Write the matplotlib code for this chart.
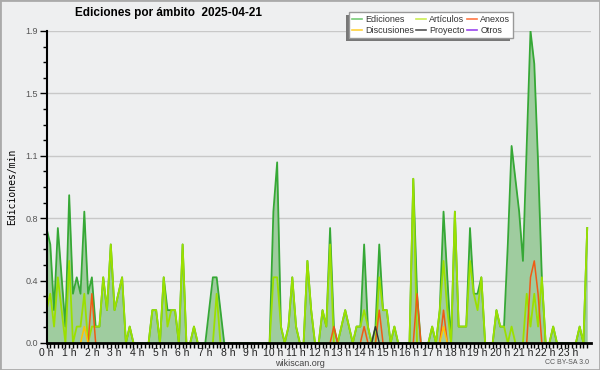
import matplotlib
matplotlib.use("Agg")
import matplotlib.pyplot as plt
import numpy as np
from matplotlib.lines import Line2D
from matplotlib.patches import Rectangle

# edits per minute, one value per 10 minutes (6 per hour, 4 hours per row)
ediciones = [
    0.7, 0.6, 0.2, 0.7, 0.4, 0.1, 0.9, 0.3, 0.4, 0.3, 0.8, 0.3, 0.4, 0.1, 0.1, 0.4, 0.2, 0.6, 0.2, 0.3, 0.4, 0.0, 0.1, 0.0,
    0.0, 0.0, 0.0, 0.0, 0.2, 0.2, 0.0, 0.4, 0.2, 0.2, 0.2, 0.0, 0.6, 0.0, 0.0, 0.1, 0.0, 0.0, 0.0, 0.2, 0.4, 0.4, 0.2, 0.0,
    0.0, 0.0, 0.0, 0.0, 0.0, 0.0, 0.0, 0.0, 0.0, 0.0, 0.0, 0.0, 0.8, 1.1, 0.1, 0.0, 0.1, 0.4, 0.1, 0.0, 0.0, 0.5, 0.2, 0.0,
    0.0, 0.2, 0.1, 0.7, 0.1, 0.0, 0.1, 0.2, 0.1, 0.0, 0.1, 0.1, 0.6, 0.1, 0.0, 0.1, 0.6, 0.2, 0.2, 0.0, 0.1, 0.0, 0.0, 0.0,
    0.0, 1.0, 0.3, 0.0, 0.0, 0.0, 0.1, 0.0, 0.2, 0.8, 0.4, 0.0, 0.8, 0.1, 0.1, 0.1, 0.7, 0.3, 0.3, 0.4, 0.0, 0.0, 0.0, 0.2,
    0.1, 0.1, 0.6, 1.2, 1.0, 0.8, 0.5, 1.2, 1.9, 1.7, 1.1, 0.4, 0.0, 0.0, 0.1, 0.0, 0.0, 0.0, 0.0, 0.0, 0.0, 0.1, 0.0, 0.7,
]
articulos = [
    0.2, 0.3, 0.1, 0.4, 0.2, 0.0, 0.5, 0.0, 0.1, 0.1, 0.3, 0.0, 0.1, 0.1, 0.1, 0.4, 0.2, 0.6, 0.2, 0.3, 0.4, 0.0, 0.1, 0.0,
    0.0, 0.0, 0.0, 0.0, 0.2, 0.2, 0.0, 0.4, 0.1, 0.2, 0.2, 0.0, 0.6, 0.0, 0.0, 0.1, 0.0, 0.0, 0.0, 0.0, 0.0, 0.3, 0.0, 0.0,
    0.0, 0.0, 0.0, 0.0, 0.0, 0.0, 0.0, 0.0, 0.0, 0.0, 0.0, 0.0, 0.4, 0.4, 0.1, 0.0, 0.1, 0.4, 0.1, 0.0, 0.0, 0.5, 0.2, 0.0,
    0.0, 0.2, 0.1, 0.6, 0.0, 0.0, 0.1, 0.2, 0.1, 0.0, 0.1, 0.1, 0.2, 0.1, 0.0, 0.0, 0.4, 0.2, 0.2, 0.0, 0.1, 0.0, 0.0, 0.0,
    0.0, 1.0, 0.0, 0.0, 0.0, 0.0, 0.1, 0.0, 0.2, 0.5, 0.2, 0.0, 0.8, 0.1, 0.1, 0.1, 0.5, 0.3, 0.2, 0.4, 0.0, 0.0, 0.0, 0.2,
    0.1, 0.1, 0.0, 0.1, 0.0, 0.0, 0.0, 0.3, 0.1, 0.3, 0.1, 0.4, 0.0, 0.0, 0.1, 0.0, 0.0, 0.0, 0.0, 0.0, 0.0, 0.1, 0.0, 0.7,
]
anexos = [
    0.0, 0.0, 0.0, 0.0, 0.0, 0.0, 0.0, 0.0, 0.0, 0.0, 0.0, 0.0, 0.3, 0.0, 0.0, 0.0, 0.0, 0.0, 0.0, 0.0, 0.0, 0.0, 0.0, 0.0,
    0.0, 0.0, 0.0, 0.0, 0.0, 0.0, 0.0, 0.0, 0.0, 0.0, 0.0, 0.0, 0.0, 0.0, 0.0, 0.0, 0.0, 0.0, 0.0, 0.0, 0.0, 0.0, 0.0, 0.0,
    0.0, 0.0, 0.0, 0.0, 0.0, 0.0, 0.0, 0.0, 0.0, 0.0, 0.0, 0.0, 0.0, 0.0, 0.0, 0.0, 0.0, 0.0, 0.0, 0.0, 0.0, 0.0, 0.0, 0.0,
    0.0, 0.0, 0.0, 0.0, 0.1, 0.0, 0.0, 0.0, 0.0, 0.0, 0.0, 0.0, 0.1, 0.0, 0.0, 0.0, 0.2, 0.0, 0.0, 0.0, 0.0, 0.0, 0.0, 0.0,
    0.0, 0.0, 0.3, 0.0, 0.0, 0.0, 0.0, 0.0, 0.0, 0.2, 0.0, 0.0, 0.0, 0.0, 0.0, 0.0, 0.0, 0.0, 0.0, 0.0, 0.0, 0.0, 0.0, 0.0,
    0.0, 0.0, 0.0, 0.0, 0.0, 0.0, 0.0, 0.0, 0.4, 0.5, 0.3, 0.0, 0.0, 0.0, 0.0, 0.0, 0.0, 0.0, 0.0, 0.0, 0.0, 0.0, 0.0, 0.0,
]
discusiones = [
    0.0, 0.0, 0.0, 0.0, 0.0, 0.0, 0.0, 0.0, 0.0, 0.0, 0.1, 0.0, 0.0, 0.0, 0.0, 0.0, 0.0, 0.0, 0.0, 0.0, 0.0, 0.0, 0.0, 0.0,
    0.0, 0.0, 0.0, 0.0, 0.0, 0.0, 0.0, 0.0, 0.0, 0.0, 0.0, 0.0, 0.0, 0.0, 0.0, 0.0, 0.0, 0.0, 0.0, 0.0, 0.0, 0.0, 0.0, 0.0,
    0.0, 0.0, 0.0, 0.0, 0.0, 0.0, 0.0, 0.0, 0.0, 0.0, 0.0, 0.0, 0.0, 0.0, 0.0, 0.0, 0.0, 0.0, 0.0, 0.0, 0.0, 0.0, 0.0, 0.0,
    0.0, 0.0, 0.0, 0.0, 0.0, 0.0, 0.0, 0.0, 0.0, 0.0, 0.0, 0.0, 0.0, 0.0, 0.0, 0.0, 0.0, 0.0, 0.0, 0.0, 0.0, 0.0, 0.0, 0.0,
    0.0, 0.0, 0.0, 0.0, 0.0, 0.0, 0.0, 0.0, 0.0, 0.1, 0.0, 0.0, 0.0, 0.0, 0.0, 0.0, 0.0, 0.0, 0.0, 0.0, 0.0, 0.0, 0.0, 0.0,
    0.0, 0.0, 0.0, 0.0, 0.0, 0.0, 0.0, 0.0, 0.0, 0.0, 0.0, 0.0, 0.0, 0.0, 0.0, 0.0, 0.0, 0.0, 0.0, 0.0, 0.0, 0.0, 0.0, 0.0,
]
proyecto = [
    0.0, 0.0, 0.0, 0.0, 0.0, 0.0, 0.0, 0.0, 0.0, 0.0, 0.0, 0.0, 0.0, 0.0, 0.0, 0.0, 0.0, 0.0, 0.0, 0.0, 0.0, 0.0, 0.0, 0.0,
    0.0, 0.0, 0.0, 0.0, 0.0, 0.0, 0.0, 0.0, 0.0, 0.0, 0.0, 0.0, 0.0, 0.0, 0.0, 0.0, 0.0, 0.0, 0.0, 0.0, 0.0, 0.0, 0.0, 0.0,
    0.0, 0.0, 0.0, 0.0, 0.0, 0.0, 0.0, 0.0, 0.0, 0.0, 0.0, 0.0, 0.0, 0.0, 0.0, 0.0, 0.0, 0.0, 0.0, 0.0, 0.0, 0.0, 0.0, 0.0,
    0.0, 0.0, 0.0, 0.0, 0.0, 0.0, 0.0, 0.0, 0.0, 0.0, 0.0, 0.0, 0.0, 0.0, 0.0, 0.1, 0.0, 0.0, 0.0, 0.0, 0.0, 0.0, 0.0, 0.0,
    0.0, 0.0, 0.0, 0.0, 0.0, 0.0, 0.0, 0.0, 0.0, 0.0, 0.0, 0.0, 0.0, 0.0, 0.0, 0.0, 0.0, 0.0, 0.0, 0.0, 0.0, 0.0, 0.0, 0.0,
    0.0, 0.0, 0.0, 0.0, 0.0, 0.0, 0.0, 0.0, 0.0, 0.0, 0.0, 0.0, 0.0, 0.0, 0.0, 0.0, 0.0, 0.0, 0.0, 0.0, 0.0, 0.0, 0.0, 0.0,
]
hour_labels = [f"{h} h" for h in range(24)]
legend_names = ["Ediciones", "Discusiones", "Artículos", "Proyecto", "Anexos", "Otros"]
legend_colors = ["#77cc77", "#ffd23c", "#ccee55", "#555555", "#ff7744", "#9944ee"]

BG = "#eeeff0"
SANS = ["Liberation Sans", "DejaVu Sans"]


def visible(values):
    # hide the stretches that sit flat on the baseline
    v = np.array(values, dtype=float)
    nz = v > 0
    keep = nz.copy()
    keep[1:] |= nz[:-1]
    keep[:-1] |= nz[1:]
    v[~keep] = np.nan
    return v


x = np.arange(len(ediciones)) / 6.0
ymax = max(ediciones)

fig = plt.figure(figsize=(6, 3.7), dpi=100, facecolor=BG)
ax = fig.add_axes([46.5 / 600, 1 - 343 / 370, (591 - 46.5) / 600, (343 - 31) / 370])
ax.set_facecolor(BG)

ax.fill_between(x, ediciones, 0, color="#9fcc9f", lw=0, zorder=1)
ax.plot(x, ediciones, color="#36a836", lw=1.3, zorder=2)
ax.plot(x, visible(articulos), color="#9be000", lw=1.3, zorder=2.1)
ax.plot(x, visible(anexos), color="#f05a14", lw=1.1, zorder=2.2)
ax.plot(x, visible(discusiones), color="#ffc400", lw=1.1, zorder=2.2)
ax.plot(x, visible(proyecto), color="#333333", lw=1.0, zorder=2.3)

ax.set_xlim(0, 24)
ax.set_ylim(0, ymax)
yt = [ymax * k / 5 for k in range(6)]
ax.set_yticks(yt)
ax.set_yticklabels([f"{v:.1f}" for v in yt], fontsize=6.5, color="#555555",
                   family=SANS)
ax.set_yticks([ymax * k / 20 for k in range(21)], minor=True)
ax.set_xticks(range(24))
ax.set_xticklabels(hour_labels, fontsize=7.5, color="#222222", family=SANS)
ax.set_xticks(np.arange(0, 24, 1 / 6), minor=True)
ax.tick_params(axis="y", which="major", length=5, width=1, pad=1)
ax.tick_params(axis="y", which="minor", length=3, width=1)
ax.tick_params(axis="x", which="both", length=3.5, width=1, pad=0.3)
for y in yt[1:]:
    ax.axhline(y, color="#c8c8c8", lw=1, zorder=0.5)

for s in ["top", "right"]:
    ax.spines[s].set_visible(False)
ax.spines["left"].set_linewidth(1.5)
ax.spines["bottom"].set_linewidth(2)
ax.spines["left"].set_zorder(3)
ax.spines["bottom"].set_zorder(3)

ax.set_ylabel("Ediciones/min", family="DejaVu Sans Mono", fontsize=7, labelpad=6)

fig.text(75 / 600, 1 - 13 / 370, "Ediciones por ámbito  2025-04-21",
         fontsize=8.5, fontweight="bold", va="center", ha="left", family=SANS)
fig.text(300 / 600, 1 - 363 / 370, "wikiscan.org", fontsize=6.5,
         color="#444444", ha="center", va="center", family=SANS)
fig.text(589 / 600, 1 - 362 / 370, "CC BY-SA 3.0", fontsize=5,
         color="#555555", ha="right", va="center", family=SANS)

handles = [Line2D([0], [0], color=c, lw=1.2) for c in legend_colors]
leg = fig.legend(handles, legend_names, ncol=3, loc="upper right",
                 bbox_to_anchor=(513 / 600, 1 - 12 / 370),
                 prop={"family": SANS, "size": 6.5},
                 frameon=True, fancybox=False, framealpha=1,
                 edgecolor="#999999", handlelength=1.1, handletextpad=0.4,
                 columnspacing=0.2, labelspacing=0.3, borderpad=0.3,
                 borderaxespad=0)
for t in leg.get_texts():
    t.set_color("#333333")
leg.set_zorder(6)

# shadow to the lower left of the legend box
fig.canvas.draw()
bb = leg.get_window_extent()
fig.patches.append(Rectangle((bb.x0 - 3, bb.y0 - 3), bb.width, bb.height,
                             transform=None, facecolor="#777777",
                             edgecolor="none", zorder=5))

fig.patches.append(Rectangle((0, 0), 1, 1, transform=fig.transFigure,
                             fill=False, edgecolor="#aaaaaa", lw=2, zorder=10))

fig.savefig("out.png", dpi=100, facecolor=BG)
